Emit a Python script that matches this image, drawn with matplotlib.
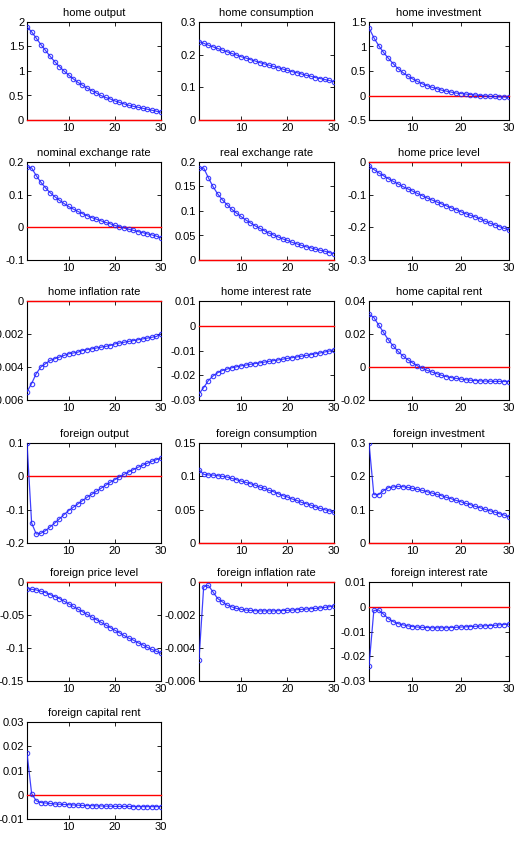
import numpy as np
import matplotlib
matplotlib.use('Agg')
import matplotlib.pyplot as plt

plt.rcParams['font.family'] = ['Liberation Sans', 'DejaVu Sans']
plt.rcParams['axes.unicode_minus'] = False

periods = list(range(1, 31))

titles = [
    'home output', 'home consumption', 'home investment',
    'nominal exchange rate', 'real exchange rate', 'home price level',
    'home inflation rate', 'home interest rate', 'home capital rent',
    'foreign output', 'foreign consumption', 'foreign investment',
    'foreign price level', 'foreign inflation rate', 'foreign interest rate',
    'foreign capital rent',
]

home_output = [1.90, 1.80, 1.67, 1.54, 1.42, 1.30, 1.19, 1.09, 1.00, 0.92,
               0.84, 0.77, 0.71, 0.65, 0.60, 0.55, 0.50, 0.46, 0.43, 0.39,
               0.36, 0.33, 0.30, 0.28, 0.26, 0.24, 0.22, 0.20, 0.18, 0.16]
home_consumption = [0.240, 0.235, 0.229, 0.224, 0.219, 0.214, 0.209, 0.204, 0.199, 0.194,
                    0.190, 0.185, 0.181, 0.176, 0.172, 0.168, 0.164, 0.160, 0.156, 0.152,
                    0.148, 0.145, 0.141, 0.137, 0.134, 0.130, 0.127, 0.124, 0.121, 0.117]
home_investment = [1.38, 1.18, 1.02, 0.88, 0.76, 0.65, 0.55, 0.47, 0.40, 0.34,
                   0.29, 0.24, 0.20, 0.17, 0.14, 0.11, 0.09, 0.07, 0.05, 0.04,
                   0.03, 0.02, 0.01, 0.00, -0.01, -0.02, -0.02, -0.03, -0.03, -0.04]
nominal_exchange = [0.185, 0.182, 0.158, 0.138, 0.121, 0.106, 0.094, 0.083, 0.073, 0.064,
                    0.056, 0.049, 0.042, 0.036, 0.030, 0.025, 0.020, 0.015, 0.011, 0.006,
                    0.002, -0.002, -0.006, -0.009, -0.013, -0.016, -0.020, -0.023, -0.027, -0.032]
real_exchange = [0.187, 0.188, 0.168, 0.150, 0.135, 0.123, 0.113, 0.104, 0.096, 0.089,
                 0.082, 0.076, 0.070, 0.065, 0.060, 0.055, 0.051, 0.047, 0.043, 0.040,
                 0.036, 0.033, 0.030, 0.027, 0.025, 0.022, 0.020, 0.018, 0.015, 0.013]
home_price = [-0.012, -0.023, -0.033, -0.042, -0.051, -0.059, -0.067, -0.075, -0.082, -0.089,
              -0.096, -0.103, -0.110, -0.116, -0.122, -0.128, -0.134, -0.140, -0.146, -0.152,
              -0.158, -0.163, -0.168, -0.174, -0.181, -0.187, -0.192, -0.198, -0.203, -0.208]
home_inflation = [-0.0055, -0.0050, -0.0044, -0.0040, -0.0038, -0.0036, -0.0035, -0.0034, -0.0033, -0.0032,
                  -0.00315, -0.0031, -0.0030, -0.00295, -0.0029, -0.00285, -0.0028, -0.00275, -0.0027, -0.0026,
                  -0.00255, -0.0025, -0.00245, -0.0024, -0.00235, -0.0023, -0.00225, -0.0022, -0.00215, -0.0020]
home_interest = [-0.0275, -0.0250, -0.0222, -0.0203, -0.0190, -0.0181, -0.0175, -0.0170, -0.0166, -0.0162,
                 -0.0159, -0.0156, -0.0153, -0.0150, -0.0147, -0.0144, -0.0141, -0.0138, -0.0135, -0.0132,
                 -0.0129, -0.0126, -0.0123, -0.0120, -0.0117, -0.0113, -0.0110, -0.0106, -0.0102, -0.0097]
home_rent = [0.0320, 0.0300, 0.0255, 0.0210, 0.0165, 0.0128, 0.0095, 0.0068, 0.0045, 0.0025,
             0.0008, -0.0008, -0.0020, -0.0030, -0.0040, -0.0050, -0.0058, -0.0064, -0.0069, -0.0073,
             -0.0077, -0.0080, -0.0082, -0.0084, -0.0085, -0.0086, -0.0087, -0.0087, -0.0088, -0.0088]
foreign_output = [0.100, -0.140, -0.173, -0.171, -0.163, -0.152, -0.140, -0.128, -0.115, -0.103,
                  -0.093, -0.083, -0.073, -0.063, -0.054, -0.045, -0.036, -0.027, -0.018, -0.010,
                  -0.002, 0.006, 0.013, 0.020, 0.027, 0.033, 0.039, 0.045, 0.050, 0.055]
foreign_consumption = [0.110, 0.103, 0.102, 0.102, 0.101, 0.100, 0.099, 0.097, 0.095, 0.093,
                       0.091, 0.089, 0.087, 0.084, 0.082, 0.079, 0.077, 0.074, 0.071, 0.069,
                       0.066, 0.064, 0.061, 0.059, 0.057, 0.054, 0.052, 0.050, 0.048, 0.046]
foreign_investment = [0.300, 0.145, 0.145, 0.157, 0.166, 0.168, 0.170, 0.169, 0.167, 0.164,
                      0.161, 0.158, 0.154, 0.150, 0.146, 0.142, 0.137, 0.133, 0.128, 0.124,
                      0.119, 0.115, 0.110, 0.106, 0.101, 0.097, 0.093, 0.088, 0.084, 0.078]
foreign_price = [-0.010, -0.011, -0.012, -0.014, -0.016, -0.019, -0.022, -0.025, -0.029, -0.033,
                 -0.037, -0.041, -0.045, -0.049, -0.053, -0.057, -0.061, -0.065, -0.069, -0.073,
                 -0.077, -0.081, -0.085, -0.088, -0.092, -0.095, -0.099, -0.102, -0.105, -0.108]
foreign_inflation = [-0.0047, -0.0003, -0.0002, -0.0006, -0.0010, -0.0012, -0.0014, -0.0015, -0.0016, -0.00165,
                     -0.0017, -0.00172, -0.00174, -0.00175, -0.00175, -0.00175, -0.00175, -0.00174, -0.00173, -0.00172,
                     -0.0017, -0.00168, -0.00166, -0.00164, -0.00162, -0.0016, -0.00157, -0.00154, -0.0015, -0.00145]
foreign_interest = [-0.0240, -0.0015, -0.0013, -0.0030, -0.0048, -0.0060, -0.0068, -0.0073, -0.0077, -0.0080,
                    -0.0082, -0.0083, -0.0084, -0.0085, -0.0085, -0.0085, -0.0085, -0.0084, -0.0083, -0.0082,
                    -0.0081, -0.0080, -0.0079, -0.0078, -0.0077, -0.0076, -0.0075, -0.0073, -0.0072, -0.0070]
foreign_rent = [0.0172, 0.0005, -0.0025, -0.0032, -0.0034, -0.0036, -0.0038, -0.0039, -0.0040, -0.0041,
                -0.0042, -0.0043, -0.0044, -0.0045, -0.0045, -0.0046, -0.0046, -0.0047, -0.0047, -0.0048,
                -0.0048, -0.0048, -0.0048, -0.0049, -0.0049, -0.0049, -0.0049, -0.0049, -0.0049, -0.0049]

series = [home_output, home_consumption, home_investment,
          nominal_exchange, real_exchange, home_price,
          home_inflation, home_interest, home_rent,
          foreign_output, foreign_consumption, foreign_investment,
          foreign_price, foreign_inflation, foreign_interest,
          foreign_rent]

y_ticks = [
    [0, 0.5, 1, 1.5, 2], [0, 0.1, 0.2, 0.3], [-0.5, 0, 0.5, 1, 1.5],
    [-0.1, 0, 0.1, 0.2], [0, 0.05, 0.1, 0.15, 0.2], [-0.3, -0.2, -0.1, 0],
    [-0.006, -0.004, -0.002, 0], [-0.03, -0.02, -0.01, 0, 0.01], [-0.02, 0, 0.02, 0.04],
    [-0.2, -0.1, 0, 0.1], [0, 0.05, 0.1, 0.15], [0, 0.1, 0.2, 0.3],
    [-0.15, -0.1, -0.05, 0], [-0.006, -0.004, -0.002, 0], [-0.03, -0.02, -0.01, 0, 0.01],
    [-0.01, 0, 0.01, 0.02, 0.03],
]
x_ticks = [10, 20, 30]

W, H = 516, 847
fig = plt.figure(figsize=(W / 100, H / 100), dpi=100)

col_px = [(27, 161), (199, 334), (369, 509)]
row_px = [(22, 120), (162, 260), (301, 400), (443, 543), (582, 681), (722, 819)]

for i, (title, vals, yt) in enumerate(zip(titles, series, y_ticks)):
    r, c = divmod(i, 3)
    x0, x1 = col_px[c]
    y0, y1 = row_px[r]
    ax = fig.add_axes([x0 / W, 1 - y1 / H, (x1 - x0) / W, (y1 - y0) / H])
    ax.plot(periods, vals, '-o', color='#2020ff', lw=0.9, ms=3.2, mew=0.8,
            mfc='none', alpha=0.85, zorder=4)
    # zero line, drawn over the frame when it sits on an edge
    ax.plot([1, 30], [0, 0], color='red', lw=1.0, zorder=3, clip_on=False)
    ax.set_xlim(1, 30)
    ax.set_ylim(yt[0], yt[-1])
    ax.set_xticks(x_ticks)
    ax.set_yticks(yt)
    ax.set_yticklabels(['%g' % v for v in yt])
    ax.tick_params(direction='in', length=3, width=0.6, top=True, right=True,
                   labelsize=8, pad=2)
    for s in ax.spines.values():
        s.set_linewidth(0.8)
    ax.set_title(title, fontsize=8, pad=4)

fig.savefig('out.png', dpi=100)
